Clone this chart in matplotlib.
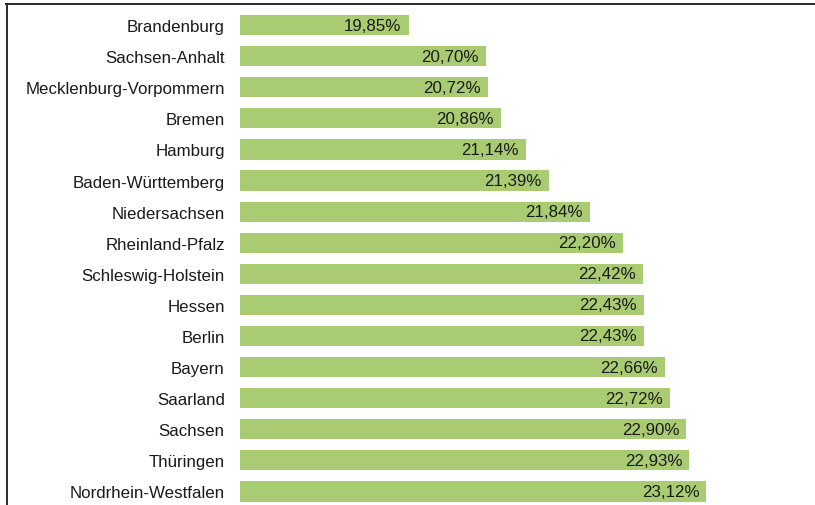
import matplotlib.pyplot as plt
from matplotlib.lines import Line2D

plt.rcParams['font.family'] = ['Liberation Sans', 'DejaVu Sans']

# %%
# Anteil je Bundesland
laender = ['Brandenburg', 'Sachsen-Anhalt', 'Mecklenburg-Vorpommern', 'Bremen',
           'Hamburg', 'Baden-Württemberg', 'Niedersachsen', 'Rheinland-Pfalz',
           'Schleswig-Holstein', 'Hessen', 'Berlin', 'Bayern', 'Saarland',
           'Sachsen', 'Thüringen', 'Nordrhein-Westfalen']
werte = [19.85, 20.70, 20.72, 20.86, 21.14, 21.39, 21.84, 22.20,
         22.42, 22.43, 22.43, 22.66, 22.72, 22.90, 22.93, 23.12]

# %%
fig = plt.figure(figsize=(8.15, 5.06), dpi=100)
ax = fig.add_axes([240/815, -2/506, 560/815, 1 - 8.5/506])

base = 18
y = range(len(laender))
ax.barh(y, [w - base for w in werte], left=base, height=0.65, color='#a9cc72')

for i, w in enumerate(werte):
    ax.annotate(f'{w:.2f}%'.replace('.', ','), (w, i), xytext=(-5, 0),
                textcoords='offset points', ha='right', va='center',
                fontsize=12.2, color='#1a1a1a')

ax.set_xlim(base, base + 560/91.1)
ax.set_ylim(len(laender) - 0.5, -0.5)
ax.set_yticks(list(y))
ax.set_yticklabels(laender, fontsize=12.2, color='#1a1a1a')
ax.tick_params(axis='y', length=0, pad=11)
ax.set_xticks([])
for s in ax.spines.values():
    s.set_visible(False)

# Rahmen oben und links
fig.add_artist(Line2D([6/815, 1], [1 - 5/506, 1 - 5/506], color='#2a2a2a', lw=1.4))
fig.add_artist(Line2D([7/815, 7/815], [0, 1 - 5/506], color='#2a2a2a', lw=1.4))

plt.savefig('out.png')
